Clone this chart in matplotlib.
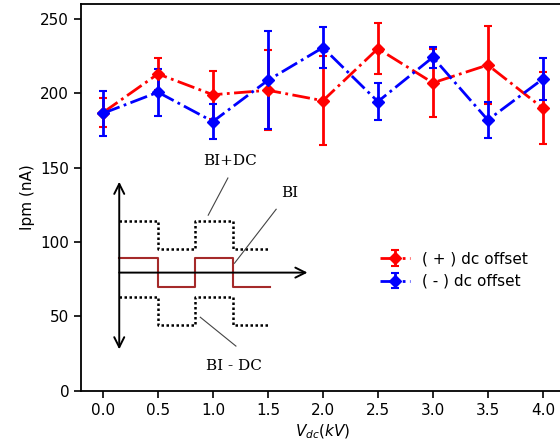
import matplotlib.pyplot as plt

# --- data ---
vdc = [0.0, 0.5, 1.0, 1.5, 2.0, 2.5, 3.0, 3.5, 4.0]
ipm_pos = [187, 213, 199, 202, 195, 230, 207, 219, 190]
err_pos = [10, 11, 16, 27, 30, 17, 23, 26, 24]
ipm_neg = [186.5, 200.7, 181, 208.7, 230.7, 194.4, 224.2, 182, 209.6]
err_neg = [15.3, 15.7, 11.8, 33, 14, 12.5, 7, 12, 14.3]

# --- sketch of the bias waveforms (data units) ---
wave_x = [0.148, 0.497, 0.497, 0.839, 0.839, 1.187, 1.187, 1.52]
bi_lvl = [89, 89, 70, 70, 89, 89, 70, 70]
bi_dc_up = [114.3, 114.3, 95.3, 95.3, 114.3, 114.3, 95.3, 95.3]
bi_dc_dn = [63.3, 63.3, 44, 44, 63.3, 63.3, 44, 44]

fig = plt.figure(figsize=(5.6, 4.46), dpi=100)
ax = fig.add_axes([0.1446, 0.124, 0.864, 0.867])

ax.errorbar(vdc, ipm_pos, yerr=err_pos, color='red', ls='-.', lw=2,
            marker='D', ms=6, capsize=3, elinewidth=2, capthick=1.5,
            label='( + ) dc offset')
ax.errorbar(vdc, ipm_neg, yerr=err_neg, color='blue', ls='-.', lw=2,
            marker='D', ms=6, capsize=3, elinewidth=2, capthick=1.5,
            label='( - ) dc offset')

# inset diagram
ax.plot(wave_x, bi_dc_up, color='black', ls=(0, (1, 1)), lw=1.8)
ax.plot(wave_x, bi_dc_dn, color='black', ls=(0, (1, 1)), lw=1.8)
ax.plot(wave_x, bi_lvl, color='#a52a2a', lw=1.5)
ax.annotate('', xy=(0.148, 140.5), xytext=(0.148, 27.8),
            arrowprops=dict(arrowstyle='<->', lw=1.4, color='black',
                            mutation_scale=18, shrinkA=0, shrinkB=0))
ax.annotate('', xy=(1.86, 79.4), xytext=(0.148, 79.4),
            arrowprops=dict(arrowstyle='->', lw=1.4, color='black',
                            mutation_scale=18, shrinkA=0, shrinkB=0))

serif = dict(family='DejaVu Serif', fontsize=11, ha='center', va='center')
ax.text(1.157, 154.5, 'BI+DC', **serif)
ax.text(1.70, 132.8, 'BI', **serif)
ax.text(1.194, 16.8, 'BI - DC', **serif)
ax.plot([1.136, 0.957], [143, 118], color='#444444', lw=0.8)
ax.plot([1.575, 1.196], [122, 85.7], color='#444444', lw=0.8)
ax.plot([0.885, 1.209], [49.4, 30], color='#444444', lw=0.8)

ax.set_xlim(-0.2, 4.2)
ax.set_ylim(0, 260)
ax.set_xticks([0.0, 0.5, 1.0, 1.5, 2.0, 2.5, 3.0, 3.5, 4.0])
ax.set_yticks([0, 50, 100, 150, 200, 250])
ax.tick_params(labelsize=11, width=1.2, length=5)
for s in ax.spines.values():
    s.set_linewidth(1.3)
ax.set_xlabel('$V_{dc}(kV)$', fontsize=11)
ax.set_ylabel('Ipm (nA)', fontsize=11)

ax.legend(loc='upper left', bbox_to_anchor=(0.589, 0.396), frameon=False,
          fontsize=11)

fig.savefig('out.png', dpi=100)
